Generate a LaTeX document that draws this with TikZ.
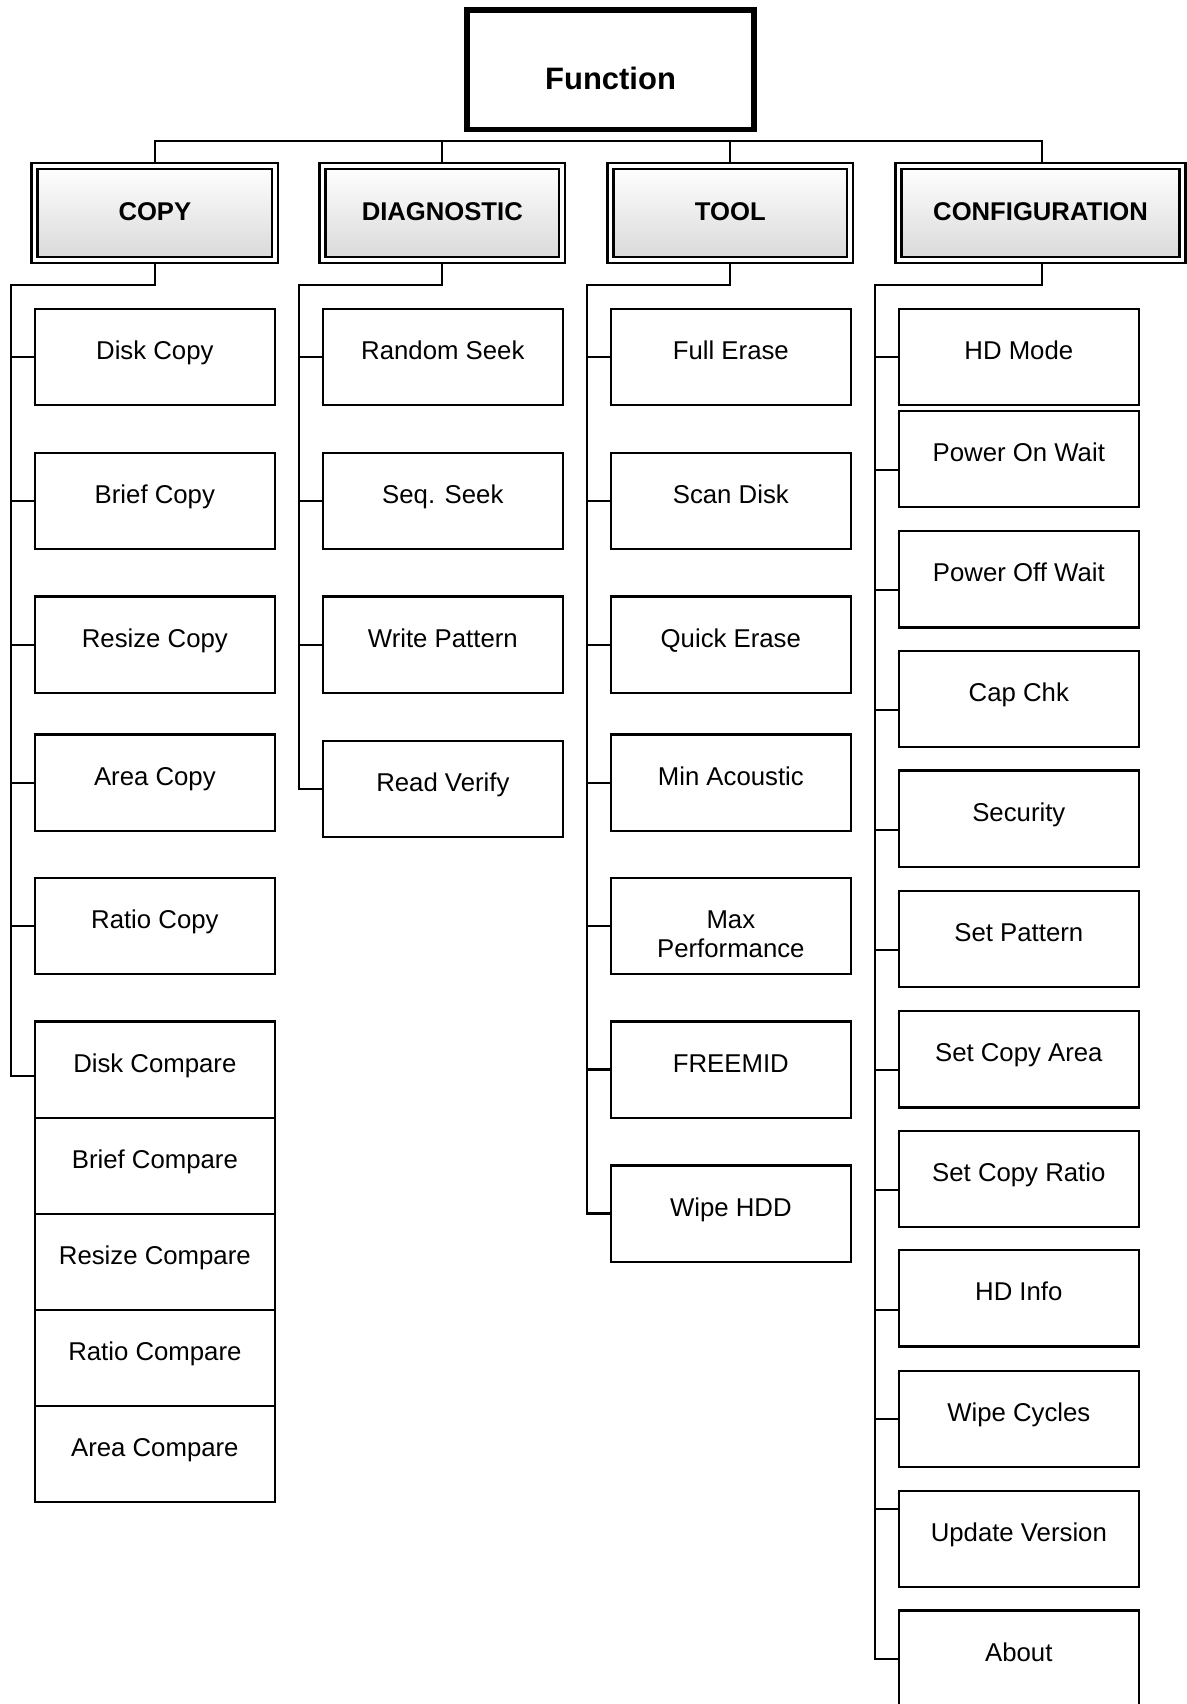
\documentclass[tikz,border=0pt]{standalone}
\usepackage{fontspec}
\setmainfont{Liberation Sans}
\usetikzlibrary{backgrounds}
\begin{document}
\begin{tikzpicture}[x=1pt, y=-1pt,
  topbox/.style={draw, line width=5pt, minimum width=264.4pt, minimum height=109.8pt,
    inner sep=0pt, font=\fontsize{28.5}{32}\selectfont\bfseries,
    text height=39.4pt, text depth=2pt},
  groupbox/.style={draw, double, double distance=3.3pt, line width=2.2pt,
    top color=white, bottom color=gray!30, minimum width=220.5pt, minimum height=86.5pt,
    inner sep=0pt, font=\fontsize{23.6}{27}\selectfont\bfseries,
    text height=17pt, text depth=3pt},
  itembox/.style={draw, line width=2pt, fill=white, minimum width=221pt, minimum height=88.5pt,
    inner sep=0pt, font=\fontsize{23.7}{27}\selectfont,
    text height=17pt, text depth=12.4pt},
  link/.style={line width=2pt, line cap=rect}]

  \useasboundingbox (0,0) rectangle (1092,1568);

  % Wurzel
  \node[topbox] (func) at (561.8,64.1) {Function};

  % Gruppen
  \node[groupbox, minimum width=221.5pt] (copy) at (142.5,196) {COPY};
  \node[groupbox] (diag) at (407,196) {DIAGNOSTIC};
  \node[groupbox] (tool) at (672,196) {TOOL};
  \node[groupbox, minimum width=261.5pt] (conf) at (957.5,196) {CONFIGURATION};

  % COPY
  \node[itembox] (dcopy)   at (142.5,328.7)  {Disk Copy};
  \node[itembox] (bcopy)   at (142.5,461.2)  {Brief Copy};
  \node[itembox] (rcopy)   at (142.5,593.2)  {Resize Copy};
  \node[itembox] (acopy)   at (142.5,720.2)  {Area Copy};
  \node[itembox] (ratcopy) at (142.5,852.2)  {Ratio Copy};
  \node[itembox] (dcomp)   at (142.5,984.2)  {Disk Compare};
  \node[itembox] (bcomp)   at (142.5,1072.7) {Brief Compare};
  \node[itembox] (rcomp)   at (142.5,1161.2) {Resize Compare};
  \node[itembox] (ratcomp) at (142.5,1249.7) {Ratio Compare};
  \node[itembox] (acomp)   at (142.5,1338.2) {Area Compare};

  % DIAGNOSTIC
  \node[itembox] (rseek) at (407.5,328.7) {Random Seek};
  \node[itembox] (sseek) at (407.5,461.2) {Seq. Seek};
  \node[itembox] (wpat)  at (407.5,593.2) {Write Pattern};
  \node[itembox] (rver)  at (407.5,726.2) {Read Verify};

  % TOOL
  \node[itembox] (ferase)  at (672.5,328.7)  {Full Erase};
  \node[itembox] (sdisk)   at (672.5,461.2)  {Scan Disk};
  \node[itembox] (qerase)  at (672.5,593.2)  {Quick Erase};
  \node[itembox] (minac)   at (672.5,720.2)  {Min Acoustic};
  \node[itembox] (maxperf) at (672.5,852.2)  {\begin{tabular}[t]{@{}c@{}}Max\\Performance\end{tabular}};
  \node[itembox] (freemid) at (672.5,984.2)  {FREEMID};
  \node[itembox] (wipehdd) at (672.5,1116.7) {Wipe HDD};

  % CONFIGURATION
  \node[itembox] (hdmode)   at (937.5,328.8)  {HD Mode};
  \node[itembox] (ponwait)  at (937.5,422.2)  {Power On Wait};
  \node[itembox] (poffwait) at (937.5,533.2)  {Power Off Wait};
  \node[itembox] (capchk)   at (937.5,643.2)  {Cap Chk};
  \node[itembox] (security) at (937.5,753.2)  {Security};
  \node[itembox] (setpat)   at (937.5,863.9)  {Set Pattern};
  \node[itembox] (setarea)  at (937.5,974.9)  {Set Copy Area};
  \node[itembox] (setratio) at (937.5,1084.7) {Set Copy Ratio};
  \node[itembox] (hdinfo)   at (937.5,1194.8) {HD Info};
  \node[itembox] (wipecyc)  at (937.5,1305.5) {Wipe Cycles};
  \node[itembox] (updver)   at (937.5,1415.9) {Update Version};
  \node[itembox] (about)    at (937.5,1526.2) {About};

  % Verbindungen
  \begin{scope}[on background layer]
    \coordinate (bus) at (0,130);
    \draw[link] (copy.north) -- (copy.north |- bus) -- ([xshift=1.5pt]conf.north |- bus)
      -- ([xshift=1.5pt]conf.north);
    \foreach \g in {diag,tool} \draw[link] (\g.north) -- (\g.north |- bus);

    \coordinate (copy-rail) at (10.4,262);
    \coordinate (diag-rail) at (275,262);
    \coordinate (tool-rail) at (540,262);
    \coordinate (conf-rail) at (805,262);
    \foreach \g in {copy,diag,tool} \draw[link] (\g.south) |- (\g-rail);
    \draw[link] ([xshift=1.5pt]conf.south) |- (conf-rail);

    % Schienen
    \draw[link] (copy-rail) |- ([yshift=-6pt]dcomp.west);
    \draw[link] (diag-rail) |- (rver.west);
    \draw[link] (tool-rail) |- (wipehdd.west);
    \draw[link] (conf-rail) |- (about.west);

    % Stichleitungen
    \foreach \r/\c/\s in {copy/dcopy/0,copy/bcopy/0,copy/rcopy/0,copy/acopy/0,copy/ratcopy/0,
        diag/rseek/0,diag/sseek/0,diag/wpat/0,
        tool/ferase/0,tool/sdisk/0,tool/qerase/0,tool/minac/0,tool/maxperf/0,tool/freemid/0,
        conf/hdmode/0,conf/ponwait/-10.5,conf/poffwait/-9.8,conf/capchk/-10,conf/security/-10.8,
        conf/setpat/-10.4,conf/setarea/-9.8,conf/setratio/-10,conf/hdinfo/-10.7,
        conf/wipecyc/0,conf/updver/27.3}
    {
      \coordinate (tick) at ([yshift=\s pt]\c.west);
      \draw[link] (tick -| \r-rail) -- (tick);
    }
  \end{scope}
\end{tikzpicture}
\end{document}
